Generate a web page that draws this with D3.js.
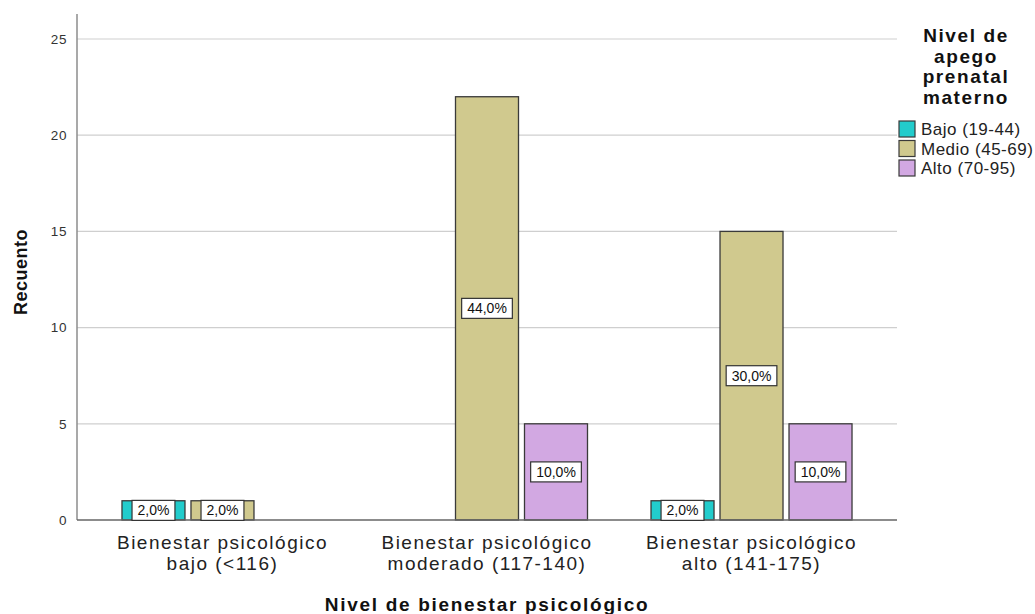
<!DOCTYPE html>
<html>
<head>
<meta charset="utf-8">
<script src="https://cdn.jsdelivr.net/npm/d3@7"></script>
<style>
  html, body { margin: 0; padding: 0; background: #fff; }
  svg { display: block; font-family: Arial, "Liberation Sans", sans-serif; }
</style>
</head>
<body>
<svg id="chart" width="1035" height="614"></svg>
<script>
// Categories of psychological well-being (x axis), each shown on two lines
const categories = ["bajo", "moderado", "alto"];
const categoryLabels = [
  ["Bienestar psicológico", "bajo (<116)"],
  ["Bienestar psicológico", "moderado (117-140)"],
  ["Bienestar psicológico", "alto (141-175)"]
];

// Prenatal attachment levels (series)
const seriesKeys = ["Bajo", "Medio", "Alto"];
const seriesLabels = ["Bajo (19-44)", "Medio (45-69)", "Alto (70-95)"];
const seriesColors = ["#22cccc", "#d0c98e", "#d2a8e2"];

// Counts per category, one array per series
const countsBajo  = [1, 0, 1];
const countsMedio = [1, 22, 15];
const countsAlto  = [0, 5, 5];

// Percent labels shown on each bar
const pctBajo  = ["2,0%", "", "2,0%"];
const pctMedio = ["2,0%", "44,0%", "30,0%"];
const pctAlto  = ["", "10,0%", "10,0%"];

const yTicks = [0, 5, 10, 15, 20, 25];

const seriesCounts = [countsBajo, countsMedio, countsAlto];
const seriesPct = [pctBajo, pctMedio, pctAlto];

const svg = d3.select("#chart");
const plot = { left: 77, right: 897, top: 14, bottom: 520 };

const x = d3.scalePoint()
  .domain(categories)
  .range([plot.left, plot.right])
  .padding(0.55);

const xSub = d3.scaleBand()
  .domain(seriesKeys)
  .range([-103.5, 103.5])
  .paddingInner(0.087)
  .paddingOuter(0.0435);

const y = d3.scaleLinear()
  .domain([0, 26.3])
  .range([plot.bottom, plot.top]);

// Gridlines
svg.append("g")
  .selectAll("line")
  .data(yTicks.filter(t => t > 0))
  .join("line")
  .attr("x1", plot.left).attr("x2", plot.right)
  .attr("y1", d => y(d)).attr("y2", d => y(d))
  .attr("stroke", "#cfcfcf").attr("stroke-width", 1.2);

// Y axis
const yAxis = svg.append("g")
  .attr("transform", `translate(${plot.left},0)`)
  .call(d3.axisLeft(y).tickValues(yTicks).tickSize(0).tickPadding(10));
yAxis.select(".domain").remove();
yAxis.selectAll("text")
  .attr("font-size", 13.5).attr("fill", "#333")
  .attr("font-family", "Arial, 'Liberation Sans', sans-serif")
  .style("letter-spacing", "0.6px");

svg.append("line")
  .attr("x1", plot.left).attr("x2", plot.left)
  .attr("y1", plot.top).attr("y2", plot.bottom)
  .attr("stroke", "#8c8c8c").attr("stroke-width", 1.5);

// Bars
const rows = [];
seriesKeys.forEach((k, si) => {
  categories.forEach((c, ci) => {
    rows.push({ key: k, cat: c, si, ci, value: seriesCounts[si][ci], pct: seriesPct[si][ci] });
  });
});
const bars = rows.filter(d => d.value > 0);

svg.append("g")
  .selectAll("rect")
  .data(bars)
  .join("rect")
  .attr("x", d => x(d.cat) + xSub(d.key))
  .attr("width", xSub.bandwidth())
  .attr("y", d => y(d.value))
  .attr("height", d => y(0) - y(d.value))
  .attr("fill", d => seriesColors[d.si])
  .attr("stroke", "#3a3a3a").attr("stroke-width", 1.3);

// X axis baseline
svg.append("line")
  .attr("x1", plot.left).attr("x2", plot.right)
  .attr("y1", plot.bottom).attr("y2", plot.bottom)
  .attr("stroke", "#666").attr("stroke-width", 1.3);

// Value labels in boxes
const labG = svg.append("g").selectAll("g")
  .data(bars.filter(d => d.pct))
  .join("g")
  .attr("transform", d => `translate(${x(d.cat) + xSub(d.key) + xSub.bandwidth() / 2},${(y(d.value) + y(0)) / 2})`);
labG.append("text")
  .attr("text-anchor", "middle").attr("dy", "0.36em")
  .attr("font-size", 14).attr("fill", "#111")
  .text(d => d.pct);
labG.each(function() {
  const g = d3.select(this);
  const bb = g.select("text").node().getBBox();
  g.insert("rect", "text")
    .attr("x", bb.x - 5.5).attr("y", -10)
    .attr("width", bb.width + 11).attr("height", 20)
    .attr("fill", "#fff").attr("stroke", "#333").attr("stroke-width", 1.2);
});

// Category labels
svg.append("g").selectAll("text")
  .data(categories)
  .join("text")
  .attr("x", d => x(d))
  .attr("y", 549)
  .attr("text-anchor", "middle")
  .attr("font-size", 19).attr("fill", "#222")
  .style("letter-spacing", "1.5px")
  .selectAll("tspan")
  .data((d, i) => categoryLabels[i])
  .join("tspan")
  .attr("x", function() { return x(d3.select(this.parentNode).datum()); })
  .attr("dy", (d, i) => i === 0 ? 0 : 21)
  .text(d => d);

// Axis titles
svg.append("text")
  .attr("x", (plot.left + plot.right) / 2).attr("y", 611)
  .attr("text-anchor", "middle")
  .attr("font-size", 19).attr("font-weight", "bold").attr("fill", "#111")
  .style("letter-spacing", "1.7px")
  .text("Nivel de bienestar psicológico");

svg.append("text")
  .attr("transform", "translate(27,272) rotate(-90)")
  .attr("text-anchor", "middle")
  .attr("font-size", 18).attr("font-weight", "bold").attr("fill", "#111")
  .style("letter-spacing", "0.5px")
  .text("Recuento");

// Legend
const legendTitle = ["Nivel de", "apego", "prenatal", "materno"];
svg.append("g").selectAll("text")
  .data(legendTitle)
  .join("text")
  .attr("x", 966).attr("y", (d, i) => 42 + i * 20.5)
  .attr("text-anchor", "middle")
  .attr("font-size", 19).attr("font-weight", "bold").attr("fill", "#111")
  .style("letter-spacing", "1.6px")
  .text(d => d);

const leg = svg.append("g").selectAll("g")
  .data(seriesKeys)
  .join("g")
  .attr("transform", (d, i) => `translate(899,${121 + i * 19.5})`);
leg.append("rect")
  .attr("width", 16).attr("height", 16)
  .attr("fill", (d, i) => seriesColors[i])
  .attr("stroke", "#3a3a3a").attr("stroke-width", 1.2);
leg.append("text")
  .attr("x", 22).attr("y", 8).attr("dy", "0.36em")
  .attr("font-size", 17).attr("fill", "#222")
  .style("letter-spacing", "0.5px")
  .text((d, i) => seriesLabels[i]);
</script>
</body>
</html>
